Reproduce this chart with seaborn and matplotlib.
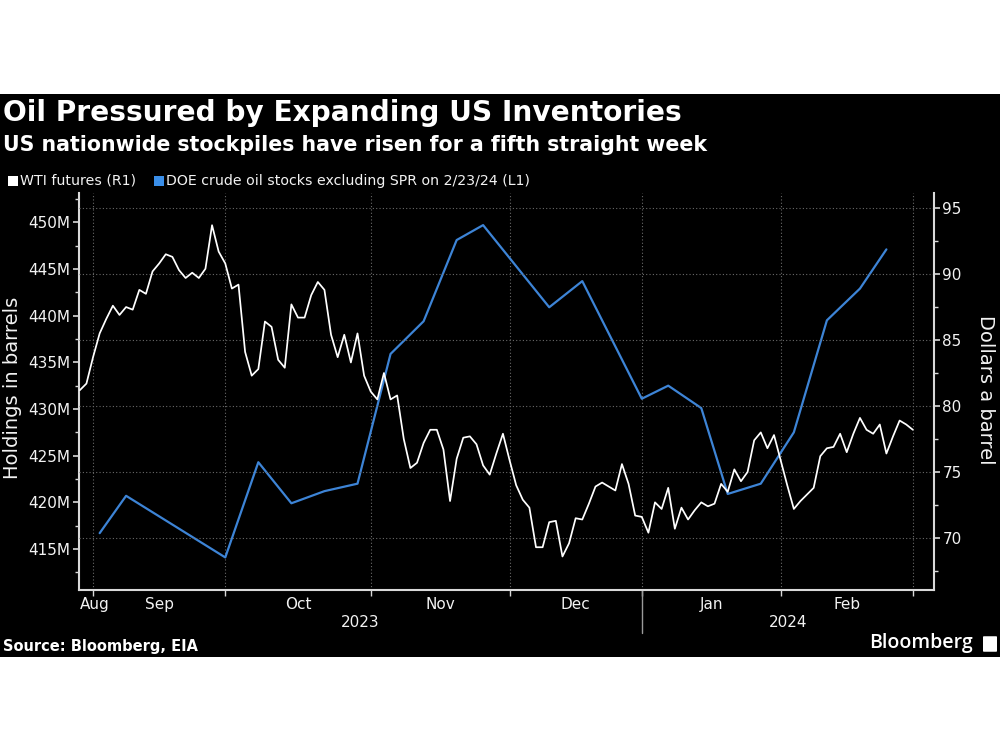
import numpy as np
import pandas as pd
import matplotlib
matplotlib.use("Agg")
import matplotlib.pyplot as plt
from matplotlib.patches import Rectangle, FancyBboxPatch
import matplotlib.transforms as mtransforms
import seaborn as sns

# ---------------- data ----------------
market_holidays = ["2023-09-04", "2023-11-23", "2023-12-25", "2024-01-01", "2024-01-15", "2024-02-19"]
start_date = "2023-08-29"
end_date = "2024-02-29"

# WTI futures, one value per trading day (Aug 29 2023 .. Feb 29 2024), $/bbl
wti_values = [
    81.2, 81.7, 83.7,                                                      # Aug 29-31
    85.5, 86.6, 87.6, 86.9, 87.5, 87.3, 88.8, 88.5, 90.2, 90.8,            # Sep
    91.5, 91.3, 90.3, 89.7, 90.1, 89.7, 90.4, 93.7, 91.7, 90.8,
    88.9, 89.2, 84.1, 82.3, 82.8, 86.4, 86.0, 83.5, 82.9, 87.7, 86.7,      # Oct
    86.7, 88.4, 89.4, 88.8, 85.4, 83.7, 85.4, 83.3, 85.5, 82.3, 81.1,
    80.5, 82.5, 80.5, 80.8, 77.5, 75.3, 75.7, 77.2, 78.2, 78.2, 76.7,      # Nov
    72.8, 76.0, 77.6, 77.7, 77.1, 75.5, 74.8, 76.4, 77.9, 75.9,
    74.0, 72.9, 72.3, 69.3, 69.3, 71.2, 71.3, 68.6, 69.6, 71.5,            # Dec
    71.4, 72.6, 73.9, 74.2, 73.9, 73.6, 75.6, 74.1, 71.7, 71.6,
    70.4, 72.7, 72.2, 73.8, 70.7, 72.3, 71.4, 72.1, 72.7, 72.4, 72.6,      # Jan
    74.1, 73.5, 75.2, 74.3, 75.0, 77.4, 78.0, 76.8, 77.8, 75.9,
    74.0, 72.2, 72.8, 73.3, 73.8, 76.2, 76.8, 76.9, 77.9, 76.5,            # Feb
    77.9, 79.1, 78.2, 77.9, 78.6, 76.4, 77.7, 78.9, 78.6, 78.2,
]

# DOE crude oil stocks excluding SPR, millions of barrels
doe_dates = ["2023-09-01", "2023-09-08", "2023-09-29", "2023-10-06", "2023-10-13",
             "2023-10-20", "2023-10-27", "2023-11-03", "2023-11-10", "2023-11-17",
             "2023-11-24", "2023-12-08", "2023-12-15", "2023-12-29", "2024-01-05",
             "2024-01-12", "2024-01-19", "2024-01-26", "2024-02-02", "2024-02-09",
             "2024-02-16", "2024-02-23"]
doe_values = [416.7, 420.7, 414.1, 424.3, 419.9, 421.2, 422.0, 435.9, 439.4, 448.1,
              449.7, 440.9, 443.7, 431.1, 432.5, 430.1, 420.9, 422.0, 427.5, 439.5,
              442.9, 447.1]

month_labels = ["Aug", "Sep", "Oct", "Nov", "Dec", "Jan", "Feb"]
year_labels = ["2023", "2024"]
left_ticks = [415, 420, 425, 430, 435, 440, 445, 450]
right_ticks = [70, 75, 80, 85, 90, 95]

title = "Oil Pressured by Expanding US Inventories"
subtitle = "US nationwide stockpiles have risen for a fifth straight week"
legend_labels = ["WTI futures (R1)", "DOE crude oil stocks excluding SPR on 2/23/24 (L1)"]
source = "Source: Bloomberg, EIA"

# ---------------- derived tables ----------------
trade_dates = pd.bdate_range(start_date, end_date, freq="C", holidays=market_holidays)
wti_df = pd.DataFrame({"day": np.arange(len(trade_dates)), "date": trade_dates, "wti": wti_values})
doe_df = pd.DataFrame({"day": trade_dates.get_indexer(pd.to_datetime(doe_dates)), "stocks": doe_values})

periods = wti_df["date"].dt.to_period("M")
month_end_idx = wti_df.groupby(periods)["day"].max().tolist()
month_centers = [2.3] + [(month_end_idx[i] + month_end_idx[i + 1]) / 2 for i in range(len(month_end_idx) - 1)]
year_break = month_end_idx[4]  # last trading day of 2023

# ---------------- styling ----------------
sns.set_theme(style="dark")
plt.rcParams["font.family"] = ["DejaVu Sans"]
BG = "#000000"
TXT = "#f2f2f2"
SPINE = "#d9d9d9"
GRID = "#6a6a6a"
BLUE = "#3d84d6"
BLUE_SQ = "#3a8ee8"

fig = plt.figure(figsize=(10, 7.5), dpi=100, facecolor="white")
fig.patches.append(Rectangle((0, 1 - 657 / 750), 1, (657 - 94) / 750, transform=fig.transFigure,
                             facecolor=BG, edgecolor="none", zorder=-5))

ax = fig.add_axes([0.0785, 1 - 590 / 750, 0.934 - 0.0785, (590 - 193) / 750])
ax.set_facecolor(BG)
ax2 = ax.twinx()
ax2.set_facecolor("none")

# lines
sns.lineplot(data=doe_df, x="day", y="stocks", ax=ax, color=BLUE, linewidth=1.6, legend=False)
sns.lineplot(data=wti_df, x="day", y="wti", ax=ax2, color="white", linewidth=1.25, legend=False)

xlim = (-0.2, 129.2)
ax.set_xlim(*xlim)
ax.set_ylim(410.61, 453.14)
ax2.set_ylim(66.06, 96.14)

# left axis
ax.set_yticks(left_ticks)
ax.set_yticklabels([f"{v}M" for v in left_ticks])
ax.set_yticks(np.arange(412.5, 453, 5.0), minor=True)
ax.tick_params(axis="y", which="major", direction="out", length=4, width=1.2, color=SPINE,
               labelcolor=TXT, labelsize=11, pad=2, left=True)
ax.tick_params(axis="y", which="minor", direction="out", length=3, width=1.0, color=SPINE, left=True)

# right axis
ax2.set_yticks(right_ticks)
ax2.set_yticklabels([str(v) for v in right_ticks])
ax2.set_yticks(np.arange(67.5, 96, 5.0), minor=True)
ax2.tick_params(axis="y", which="major", direction="out", length=4, width=1.2, color=SPINE,
                labelcolor=TXT, labelsize=11, pad=2, right=True)
ax2.tick_params(axis="y", which="minor", direction="out", length=3, width=1.0, color=SPINE, right=True)
ax2.grid(axis="y", which="major", color=GRID, linestyle=(0, (1, 2)), linewidth=0.8)
ax2.grid(axis="x", visible=False)

# x axis: ticks at month ends, labels centred in months
ax.set_xticks(month_end_idx)
ax.set_xticklabels([""] * len(month_end_idx))
ax.set_xticks(month_centers, minor=True)
ax.set_xticklabels(month_labels, minor=True)
ax.tick_params(axis="x", which="major", direction="out", length=4, width=1.0, color=SPINE, bottom=True)
ax.tick_params(axis="x", which="minor", length=0, labelsize=11, labelcolor=TXT, pad=5)
ax.grid(axis="x", which="major", color=GRID, linestyle=(0, (1, 2)), linewidth=0.8)
ax.grid(axis="y", visible=False)
ax.set_xlabel("")
ax.set_ylabel("")
ax2.set_xlabel("")
ax2.set_ylabel("")

# year labels + separator
trans = mtransforms.blended_transform_factory(ax.transData, ax.transAxes)
ax.text((xlim[0] + year_break) / 2, -0.083, year_labels[0], transform=trans, ha="center", va="center",
        color=TXT, fontsize=11)
ax.text((year_break + xlim[1]) / 2, -0.083, year_labels[1], transform=trans, ha="center", va="center",
        color=TXT, fontsize=11)
ax.plot([year_break, year_break], [0, -0.108], transform=trans, color="#9a9a9a", linewidth=1.0,
        clip_on=False)

# spines
for s in ["top", "right"]:
    ax.spines[s].set_visible(False)
for s in ["left", "bottom"]:
    ax.spines[s].set_color(SPINE)
    ax.spines[s].set_linewidth(1.5)
for s in ["top", "left", "bottom"]:
    ax2.spines[s].set_visible(False)
ax2.spines["right"].set_color(SPINE)
ax2.spines["right"].set_linewidth(1.5)

# axis titles
fig.text(0.0125, 1 - 388 / 750, "Holdings in barrels", rotation=90, ha="center", va="center",
         color=TXT, fontsize=14)
fig.text(0.986, 1 - 390 / 750, "Dollars a barrel", rotation=270, ha="center", va="center",
         color=TXT, fontsize=14)

# titles
fig.text(0.003, 1 - 113 / 750, title, ha="left", va="center", color="white", fontsize=20.2,
         fontweight="bold")
fig.text(0.003, 1 - 145 / 750, subtitle, ha="left", va="center", color="white", fontsize=14.8,
         fontweight="bold")

# legend
leg_y = 1 - 181 / 750
fig.patches.append(Rectangle((8 / 1000, leg_y - 5 / 750), 10 / 1000, 10 / 750, transform=fig.transFigure,
                             facecolor="white", edgecolor="none"))
fig.text(20 / 1000, leg_y, legend_labels[0], ha="left", va="center", color=TXT, fontsize=10.2)
fig.patches.append(Rectangle((154 / 1000, leg_y - 5 / 750), 10 / 1000, 10 / 750, transform=fig.transFigure,
                             facecolor=BLUE_SQ, edgecolor="none"))
fig.text(166 / 1000, leg_y, legend_labels[1], ha="left", va="center", color=TXT, fontsize=10.2)

# footer
fig.text(0.003, 1 - 646 / 750, source, ha="left", va="center", color="white", fontsize=10.5,
         fontweight="bold")
fig.text(973 / 1000, 1 - 643 / 750, "Bloomberg", ha="right", va="center", color="white",
         fontsize=14, fontweight="semibold", family=["Open Sans", "DejaVu Sans"])
fig.patches.append(FancyBboxPatch((984 / 1000, 1 - 651 / 750), 12 / 1000, 14 / 750,
                                  boxstyle="round,pad=0.001", transform=fig.transFigure,
                                  facecolor="white", edgecolor="none"))

fig.savefig("out.png", dpi=100, facecolor="white")
